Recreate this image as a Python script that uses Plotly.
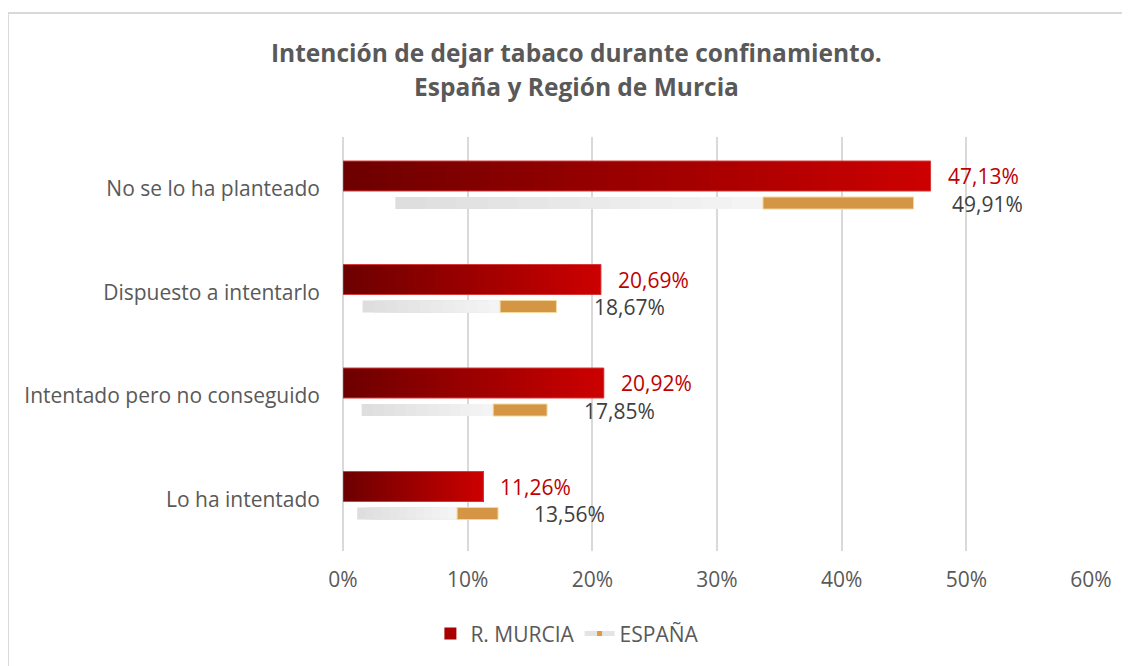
import plotly.graph_objects as go

categorias = ["No se lo ha planteado", "Dispuesto a intentarlo",
              "Intentado pero no conseguido", "Lo ha intentado"]
murcia = [47.13, 20.69, 20.92, 11.26]
espana = [49.91, 18.67, 17.85, 13.56]
ticks_x = [0, 10, 20, 30, 40, 50, 60]

pos = list(range(len(categorias)))
fig = go.Figure()

# barra roja con degradado: tramos superpuestos de oscuro a claro
n = 40
for i in range(n):
    t = i / (n - 1)
    col = "rgb(%d,%d,%d)" % (110 + t * 94, 0, 0)
    fig.add_trace(go.Bar(
        y=pos, x=[v - v * i / n for v in murcia], base=[v * i / n for v in murcia],
        orientation="h", offset=-0.268, width=0.29,
        marker=dict(color=col, line=dict(width=0)),
        showlegend=False, hoverinfo="skip"))

# borde de la barra roja
fig.add_trace(go.Bar(
    y=pos, x=murcia, orientation="h", offset=-0.268, width=0.29,
    marker=dict(color="rgba(0,0,0,0)", line=dict(color="#d83a3a", width=1)),
    showlegend=False, hoverinfo="skip"))

# leyenda R. MURCIA
fig.add_trace(go.Bar(y=[None], x=[None], orientation="h", name="R. MURCIA",
                     marker=dict(color="#a80000", line=dict(width=0))))

# cigarrillo: papel (degradado gris -> blanco) + filtro
m = 12
for i in range(m):
    t = i / (m - 1)
    g = int(222 + t * 22)
    a0 = 0.084 + (0.675 - 0.084) * i / m
    fig.add_trace(go.Bar(
        y=pos, x=[v * (0.675 - a0) for v in espana], base=[v * a0 for v in espana],
        orientation="h", offset=0.08, width=0.116,
        marker=dict(color="rgb(%d,%d,%d)" % (g, g, g), line=dict(width=0)),
        showlegend=False, hoverinfo="skip"))
fig.add_trace(go.Bar(
    y=pos, x=[v * (0.917 - 0.675) for v in espana], base=[v * 0.675 for v in espana],
    orientation="h", offset=0.08, width=0.116,
    marker=dict(color="#d49645", line=dict(color="#f3d99c", width=1)),
    showlegend=False, hoverinfo="skip"))

# leyenda ESPAÑA
fig.add_trace(go.Scatter(x=[None], y=[None], mode="lines+markers", name="ESPAÑA",
                         line=dict(color="#e4e4e4", width=5),
                         marker=dict(color="#e09a40", size=5, symbol="square")))

# etiquetas de datos
desp_esp = [-15, 16, 16, 20]
for i, v in enumerate(murcia):
    fig.add_annotation(x=v, y=i, text=("%.2f" % v).replace(".", ",") + "%",
                       showarrow=False, xanchor="left", yanchor="middle",
                       xshift=15, yshift=12.5,
                       font=dict(size=21, color="#c00000"))
for i, v in enumerate(espana):
    fig.add_annotation(x=v, y=i, text=("%.2f" % v).replace(".", ",") + "%",
                       showarrow=False, xanchor="left", yanchor="middle",
                       xshift=desp_esp[i], yshift=-15,
                       font=dict(size=21, color="#404040"))

# titulo en dos lineas
fig.add_annotation(xref="paper", yref="paper", x=0.3115, y=1.2053,
                   text="<b>Intención de dejar tabaco durante confinamiento.</b>",
                   showarrow=False, xanchor="center", yanchor="middle",
                   font=dict(size=24.5, color="#595959"))
fig.add_annotation(xref="paper", yref="paper", x=0.3115, y=1.1208,
                   text="<b>España y Región de Murcia</b>",
                   showarrow=False, xanchor="center", yanchor="middle",
                   font=dict(size=24.5, color="#595959"))

# marco del grafico
fig.add_shape(type="line", xref="paper", yref="paper", x0=-0.4479, x1=-0.4479,
              y0=-0.35, y1=1.2995, line=dict(color="#d9d9d9", width=2))
fig.add_shape(type="line", xref="paper", yref="paper", x0=-0.4479, x1=1.07,
              y0=1.2995, y1=1.2995, line=dict(color="#d9d9d9", width=2))

fig.update_layout(
    width=1130, height=666,
    margin=dict(l=335, r=47, t=129, b=123),
    barmode="overlay",
    paper_bgcolor="white", plot_bgcolor="white",
    separators=",.",
    font=dict(family="Open Sans", color="#595959", size=21),
    showlegend=True,
    legend=dict(orientation="h", x=0.30, xanchor="center", y=-0.2, yanchor="middle",
                font=dict(size=21, color="#595959"), itemwidth=30),
    xaxis=dict(range=[0, 60], tickvals=ticks_x, ticktext=["%d%%" % t for t in ticks_x],
               showgrid=True, gridcolor="#d9d9d9", gridwidth=1.5,
               zeroline=True, zerolinecolor="#d9d9d9", zerolinewidth=1.5,
               showline=False, ticks="",
               tickfont=dict(size=21, color="#595959"), ticklabelstandoff=14),
    yaxis=dict(range=[3.5, -0.5], tickvals=pos, ticktext=categorias,
               showgrid=False, zeroline=False, showline=False, ticks="",
               tickfont=dict(size=21, color="#595959"), ticklabelstandoff=22),
)

fig.write_html("out.html")
